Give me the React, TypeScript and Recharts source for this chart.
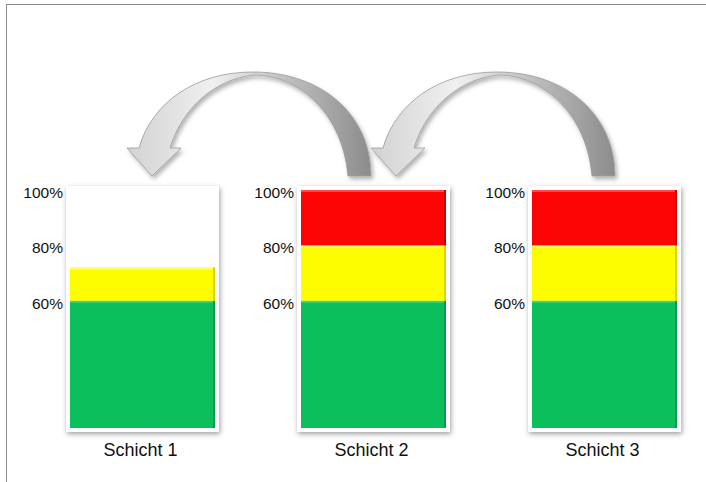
import { Bar, BarChart, XAxis, YAxis } from "recharts";

// one column per shift, stacked bands in percent
const shifts = ["Schicht 1", "Schicht 2", "Schicht 3"];
const greenValues = [60, 60, 60];
const yellowValues = [12, 20, 20];
const redValues = [0, 20, 20];
const percentTicks = [60, 80, 100];
const axisFloor = 14; // lowest value still visible inside the frames

const FONT = '"Liberation Sans", Arial, sans-serif';
const PLOT_W = 145;
const PLOT_H = 238;
const PLOT_TOP = 10;
const Y_AXIS_W = 60;
const X_AXIS_H = 40;
const CHART_W = Y_AXIS_W + PLOT_W + 12;
const CHART_H = PLOT_TOP + PLOT_H + X_AXIS_H;
const CHART_TOP = 180;
const FIRST_LEFT = 10;
const STEP = 231;

const segmentShape = (base: string, light: string, dark: string) => (props: any) => {
  const { x, y, width, height } = props;
  if (!height || height <= 0) return <g />;
  return (
    <g>
      <rect x={x} y={y} width={width} height={height} fill={base} />
      <rect x={x} y={y} width={width} height={2} fill={light} />
      <rect x={x + width - 2} y={y} width={2} height={height} fill={dark} />
    </g>
  );
};

const YTick = (p: any) => (
  <text x={p.x} y={p.y} dy={8} textAnchor="end" fill="#111" fontSize={15.5} fontFamily={FONT}>
    {p.payload.value}%
  </text>
);

function ShiftColumn({ index }: { index: number }) {
  const data = [
    {
      name: shifts[index],
      green: greenValues[index],
      yellow: yellowValues[index],
      red: redValues[index],
    },
  ];
  const left = FIRST_LEFT + index * STEP;
  return (
    <>
      <div
        style={{
          position: "absolute",
          left: left + Y_AXIS_W - 4,
          top: CHART_TOP + PLOT_TOP - 4,
          width: PLOT_W + 8,
          height: PLOT_H + 8,
          background: "#fff",
          boxShadow: "1px 2px 5px rgba(0,0,0,0.38)",
        }}
      />
      <div style={{ position: "absolute", left, top: CHART_TOP }}>
        <BarChart
          width={CHART_W}
          height={CHART_H}
          data={data}
          margin={{ top: PLOT_TOP, right: 12, bottom: 0, left: 0 }}
          barCategoryGap={0}
        >
          <XAxis
            dataKey="name"
            height={X_AXIS_H}
            axisLine={false}
            tickLine={false}
            tickSize={5}
            tickMargin={10}
            tick={{ fill: "#111", fontSize: 18, fontFamily: FONT, dx: -2 }}
          />
          <YAxis
            width={Y_AXIS_W}
            domain={[axisFloor, 100]}
            allowDataOverflow
            ticks={percentTicks}
            axisLine={false}
            tickLine={false}
            tickSize={5}
            tickMargin={2}
            tick={<YTick />}
          />
          <Bar dataKey="green" stackId="s" isAnimationActive={false} shape={segmentShape("#0abf5c", "#3fd581", "#079a49")} />
          <Bar dataKey="yellow" stackId="s" isAnimationActive={false} shape={segmentShape("#fdfd00", "#ffff66", "#d6d600")} />
          <Bar dataKey="red" stackId="s" isAnimationActive={false} shape={segmentShape("#fd0404", "#ff4a4a", "#c80000")} />
        </BarChart>
      </div>
    </>
  );
}

// curved hand-over arrow, drawn once and shifted for the second pair
const ARROW_PATH =
  "M 348 176 L 371 176 C 371 115 322 72 253 72 C 196 72 152 102 139 148 " +
  "L 127 148 L 152 176 L 181 148 L 170 148 C 182 108 215 79 254 75 C 300 75 343 115 348 176 Z";

function Arrows() {
  return (
    <svg width={706} height={482} style={{ position: "absolute", left: 0, top: 0, pointerEvents: "none" }}>
      <defs>
        <linearGradient id="arrowFill" x1="0" y1="0" x2="1" y2="0">
          <stop offset="0%" stopColor="#d2d2d2" />
          <stop offset="35%" stopColor="#f0f0f0" />
          <stop offset="55%" stopColor="#cfcfcf" />
          <stop offset="100%" stopColor="#8c8c8c" />
        </linearGradient>
        <filter id="arrowShadow" x="-10%" y="-10%" width="130%" height="130%">
          <feDropShadow dx="2" dy="3" stdDeviation="2" floodColor="#000" floodOpacity="0.3" />
        </filter>
      </defs>
      {[0, 244].map((dx) => (
        <path
          key={dx}
          d={ARROW_PATH}
          transform={`translate(${dx} 0)`}
          fill="url(#arrowFill)"
          stroke="#9c9c9c"
          strokeWidth={0.8}
          filter="url(#arrowShadow)"
        />
      ))}
    </svg>
  );
}

export default function App() {
  return (
    <div
      style={{
        position: "absolute",
        left: 0,
        top: 0,
        width: 706,
        height: 482,
        background: "#fff",
        overflow: "hidden",
        fontFamily: FONT,
      }}
    >
      <div
        style={{
          position: "absolute",
          left: 6,
          top: 4,
          width: 720,
          height: 500,
          borderTop: "1px solid #8a8a8a",
          borderLeft: "1px solid #8a8a8a",
        }}
      />
      {shifts.map((s, i) => (
        <ShiftColumn key={s} index={i} />
      ))}
      <Arrows />
    </div>
  );
}
